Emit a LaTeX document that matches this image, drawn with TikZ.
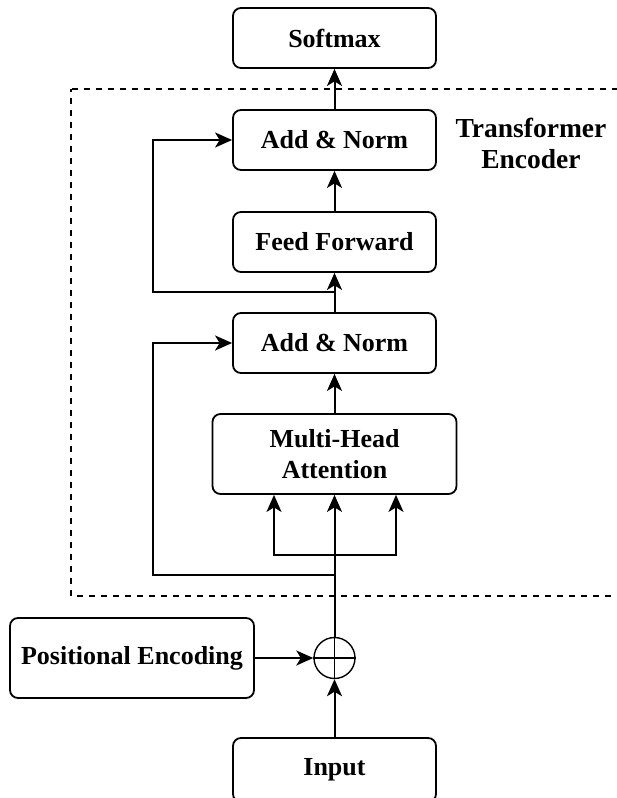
\documentclass[tikz,border=0pt]{standalone}
\usepackage{fontspec}
\setmainfont{Liberation Serif}
\usetikzlibrary{arrows.meta,calc}
\begin{document}
\begin{tikzpicture}[x=1pt,y=-1pt,
  blk/.style={draw, line width=1.8pt, rounded corners=8pt, minimum height=60pt,
    minimum width=203pt, inner sep=0pt, align=center,
    font=\fontsize{26}{31}\selectfont\bfseries},
  wire/.style={line width=2pt},
  link/.style={wire, -{Stealth[length=17pt,width=15pt,inset=4.5pt]}}]
\useasboundingbox (0,0) rectangle (617,798);

% encoder frame (runs off the right edge)
\draw[line width=1.8pt, dash pattern=on 6pt off 6pt, dash phase=3pt] (71,89) rectangle (640,596);
\node[font=\fontsize{27.5}{31}\selectfont\bfseries, align=center] (enc) at (531,143)
  {Transformer\\Encoder};

% blocks
\node[blk] (softmax) at (334.5,38) {Softmax};
\node[blk] (an1) at (334.5,140) {Add \& Norm};
\node[blk] (ff) at (334.5,242) {Feed Forward};
\node[blk] (an2) at (334.5,343) {Add \& Norm};
\node[blk, minimum width=244pt, minimum height=80pt] (mha) at (334.5,454) {Multi-Head\\Attention};
\node[blk, minimum width=244pt, minimum height=80pt] (pe) at (132,658) {Positional Encoding};
\node[blk, minimum height=64pt] (inp) at (334.5,770) {Input};
\node[draw, circle, line width=1.4pt, minimum size=41pt, inner sep=0pt] (sum) at (334.5,658) {};
\draw[line width=1.4pt] (sum.north) -- (sum.south) (sum.west) -- (sum.east);

% main path
\draw[link] (inp.north) -- (sum.south);
\draw[link] (pe.east) -- (sum.west);
\draw[link] (sum.north) -- (mha.south);
\draw[link] (mha.north) -- (an2.south);
\draw[link] (an2.north) -- (ff.south);
\draw[link] (ff.north) -- (an1.south);
\draw[link] (an1.north) -- (softmax.south);

% query / key / value split
\coordinate (qkv) at (334.5,555);
\coordinate (qk) at (274,555);
\coordinate (qv) at (396,555);
\draw[link] (qkv) -- (qk) -- (qk |- mha.south);
\draw[link] (qkv) -- (qv) -- (qv |- mha.south);

% residual connections
\coordinate (r1) at (334.5,575);
\coordinate (r1l) at (153,575);
\draw[link] (r1) -- (r1l) |- (an2.west);
\coordinate (r2) at (334.5,292);
\coordinate (r2l) at (153,292);
\draw[link] (r2) -- (r2l) |- (an1.west);
\end{tikzpicture}
\end{document}
